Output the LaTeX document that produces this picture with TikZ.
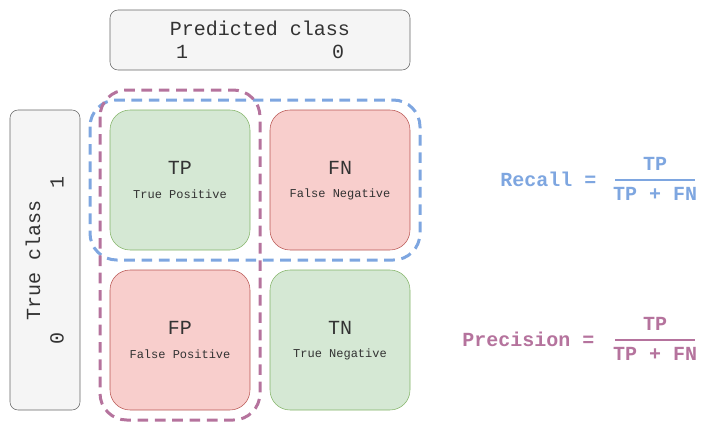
\documentclass[tikz,border=0pt]{standalone}
\usepackage{fontspec}
\setmonofont{Liberation Mono}
\usepackage{xcolor}
\definecolor{boxfill}{HTML}{F5F5F5}
\definecolor{boxline}{HTML}{666666}
\definecolor{okfill}{HTML}{D5E8D4}
\definecolor{okline}{HTML}{82B366}
\definecolor{badfill}{HTML}{F8CECC}
\definecolor{badline}{HTML}{B85450}
\definecolor{recallc}{HTML}{7EA6E0}
\definecolor{precc}{HTML}{B5739D}
\definecolor{txt}{HTML}{333333}
\begin{document}
\begin{tikzpicture}[x=0.75pt,y=-0.75pt,font=\ttfamily,
  cell/.style={draw,rounded corners=15pt,minimum size=105pt,inner sep=0pt},
  head/.style={draw=boxline,fill=boxfill,rounded corners=6pt,inner sep=0pt},
  big/.style={text=txt,font=\ttfamily\fontsize{15}{15}\selectfont},
  small/.style={text=txt,font=\ttfamily\fontsize{9}{9}\selectfont},
  group/.style={line width=2.25pt,dash pattern=on 8pt off 5pt,rounded corners=20pt},
  frm/.style={font=\ttfamily\bfseries\fontsize{15}{15}\selectfont}]
\useasboundingbox (0,0) rectangle (721,432);
% header boxes
\node[head,minimum width=225pt,minimum height=45pt] (pred) at (260,40) {};
\node[big] (predtxt) at (260,28) {Predicted class};
\node[big] (p1) at (182,52) {1};
\node[big] (p0) at (338,52) {0};
\node[head,minimum width=52.5pt,minimum height=225pt] (true) at (45,260) {};
\node[big,rotate=90] (truetxt) at (33,260) {True class};
\node[big,rotate=90] (t1) at (57,182) {1};
\node[big,rotate=90] (t0) at (57,338) {0};
% matrix cells
\node[cell,fill=okfill,draw=okline] (TP) at (180,180) {};
\node[cell,fill=badfill,draw=badline] (FN) at (340,180) {};
\node[cell,fill=badfill,draw=badline] (FP) at (180,340) {};
\node[cell,fill=okfill,draw=okline] (TN) at (340,340) {};
\foreach \c/\l in {TP/True Positive,FN/False Negative,FP/False Positive,TN/True Negative}{
  \node[big] at ([yshift=9pt]\c.center) {\c};
  \node[small] at ([yshift=-10.5pt]\c.center) {\l};
}
% groups
\draw[group,draw=recallc] (90,100) rectangle (420,260);
\draw[group,draw=precc] (100,90) rectangle (260,420);
% formulas
\node[frm,text=recallc,anchor=east] (rec) at (601,179) {Recall =};
\node[frm,text=recallc] (recnum) at (655,164) {TP};
\node[frm,text=recallc] (recden) at (655,194) {TP + FN};
\coordinate (r1) at (615,180);
\coordinate (r2) at (695,180);
\draw[recallc,line width=1.5pt] (r1) -- (r2);
\node[frm,text=precc,anchor=east] (prec) at (599,339) {Precision =};
\node[frm,text=precc] (precnum) at (655,324) {TP};
\node[frm,text=precc] (precden) at (655,354) {TP + FN};
\coordinate (q1) at (615,340);
\coordinate (q2) at (695,340);
\draw[precc,line width=1.5pt] (q1) -- (q2);
\end{tikzpicture}
\end{document}
